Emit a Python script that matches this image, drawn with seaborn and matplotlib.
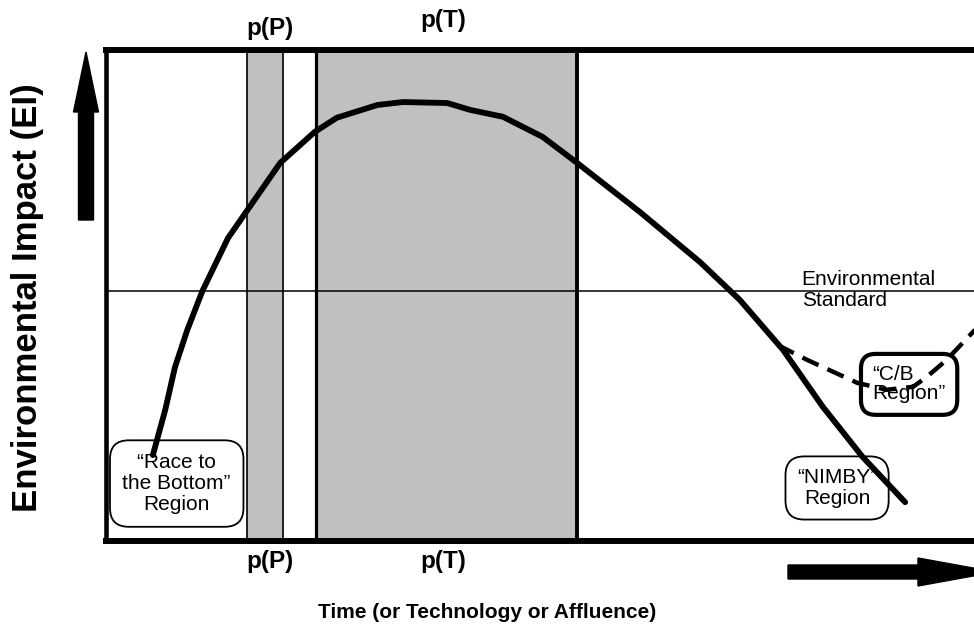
import matplotlib
matplotlib.use("Agg")
from matplotlib import pyplot as plt
from matplotlib.patches import FancyArrow
from matplotlib.transforms import IdentityTransform
import seaborn as sns
import pandas as pd

######## data ##################################

# main EI curve (time, impact)
curve_x = [0.53, 0.67, 0.78, 0.92, 1.09, 1.38, 1.60, 1.97, 2.36, 2.61, 3.07, 3.36,
           3.86, 4.12, 4.49, 4.94, 5.33, 6.04, 6.72, 7.17, 7.66, 8.11, 8.56, 9.04]
curve_y = [1.75, 2.67, 3.54, 4.30, 5.09, 6.17, 6.74, 7.70, 8.33, 8.62, 8.88, 8.94,
           8.92, 8.78, 8.64, 8.23, 7.70, 6.70, 5.68, 4.91, 3.89, 2.73, 1.71, 0.79]

# C/B branch (dashed)
cb_x = [7.60, 7.93, 8.50, 8.83, 9.13, 9.29, 9.51, 9.83]
cb_y = [3.99, 3.69, 3.22, 3.08, 3.14, 3.35, 3.69, 4.30]

# shaded periods
pP_band = (1.60, 2.00)
pT_band = (2.38, 5.33)
standard_level = 5.09

curve = pd.DataFrame({"time": curve_x, "impact": curve_y})
cb = pd.DataFrame({"time": cb_x, "impact": cb_y})

######## figure #########

sns.set_style("white")
plt.rcParams["font.family"] = ["Liberation Sans", "DejaVu Sans"]
plt.rcParams["text.color"] = "black"

fig = plt.figure(figsize=(9.74, 6.42), dpi=100)
ax = fig.add_axes([106 / 974, 101 / 642, 884 / 974, 491 / 642])
ax.set_xlim(0, 10)
ax.set_ylim(0, 10)
ax.set_xticks([])
ax.set_yticks([])
for side in ["top", "bottom"]:
    ax.spines[side].set_linewidth(4.3)
    ax.spines[side].set_color("black")
ax.spines["left"].set_linewidth(3.3)
ax.spines["left"].set_color("black")
ax.spines["right"].set_visible(False)

# shaded bands and their edges
ax.axvspan(*pP_band, color="#c0c0c0", lw=0, zorder=0.5)
ax.axvspan(*pT_band, color="#c0c0c0", lw=0, zorder=0.5)
ax.axvline(pP_band[0], color="black", lw=1.2, zorder=0.6)
ax.axvline(pP_band[1], color="black", lw=1.2, zorder=0.6)
ax.axvline(pT_band[0], color="black", lw=2.3, zorder=0.6)
ax.axvline(pT_band[1], color="black", lw=2.8, zorder=0.6)

# environmental standard
ax.axhline(standard_level, color="black", lw=1.1, zorder=0.7)
ax.text(7.87, 5.52, "Environmental\nStandard", fontsize=15, ha="left", va="top",
        linespacing=1.15)

# curves
sns.lineplot(data=curve, x="time", y="impact", sort=False, estimator=None,
             color="black", lw=4.2, ax=ax, zorder=3)
sns.lineplot(data=cb, x="time", y="impact", sort=False, estimator=None,
             color="black", lw=3.2, ls=(0, (4, 2.2)), ax=ax, zorder=3)
ax.set_xlabel("")
ax.set_ylabel("")

# region boxes
box_kw = dict(fontsize=15, ha="center", va="center", linespacing=1.15, zorder=2)
ax.text(0.80, 1.17, "\u201cRace to\nthe Bottom\u201d\nRegion",
        bbox=dict(boxstyle="round,pad=0.6,rounding_size=0.9", fc="white", ec="black", lw=1.3),
        **box_kw)
ax.text(8.27, 1.08, "\u201cNIMBY\u201d\nRegion",
        bbox=dict(boxstyle="round,pad=0.55,rounding_size=0.9", fc="white", ec="black", lw=1.3),
        **box_kw)
ax.text(8.67, 3.19, "\u201cC/B\nRegion\u201d", fontsize=15, ha="left", va="center",
        multialignment="left", linespacing=1.0, zorder=2,
        bbox=dict(boxstyle="round,pad=0.55,rounding_size=0.7", fc="white", ec="black", lw=3))

# period labels
lab_kw = dict(fontsize=17.5, fontweight="bold", ha="center", va="baseline")
ax.text(1.85, 10.31, "p(P)", **lab_kw)
ax.text(3.81, 10.47, "p(T)", **lab_kw)
ax.text(1.85, -0.55, "p(P)", **lab_kw)
ax.text(3.81, -0.55, "p(T)", **lab_kw)

# axis titles
fig.text(28 / 974, 1 - 298 / 642, "Environmental Impact (EI)", rotation=90,
         fontsize=25, fontweight="bold", ha="center", va="center")
fig.text(487 / 974, 1 - 612 / 642, "Time (or Technology or Affluence)",
         fontsize=15, fontweight="bold", ha="center", va="center")

# direction arrows (display pixels)
fig.add_artist(FancyArrow(86, 642 - 220, 0, 168, width=15, head_width=25, head_length=60,
                          length_includes_head=True, color="black",
                          transform=IdentityTransform()))
fig.add_artist(FancyArrow(788, 642 - 572, 207, 0, width=14, head_width=28, head_length=77,
                          length_includes_head=True, color="black",
                          transform=IdentityTransform()))

fig.savefig("out.png", dpi=100)
